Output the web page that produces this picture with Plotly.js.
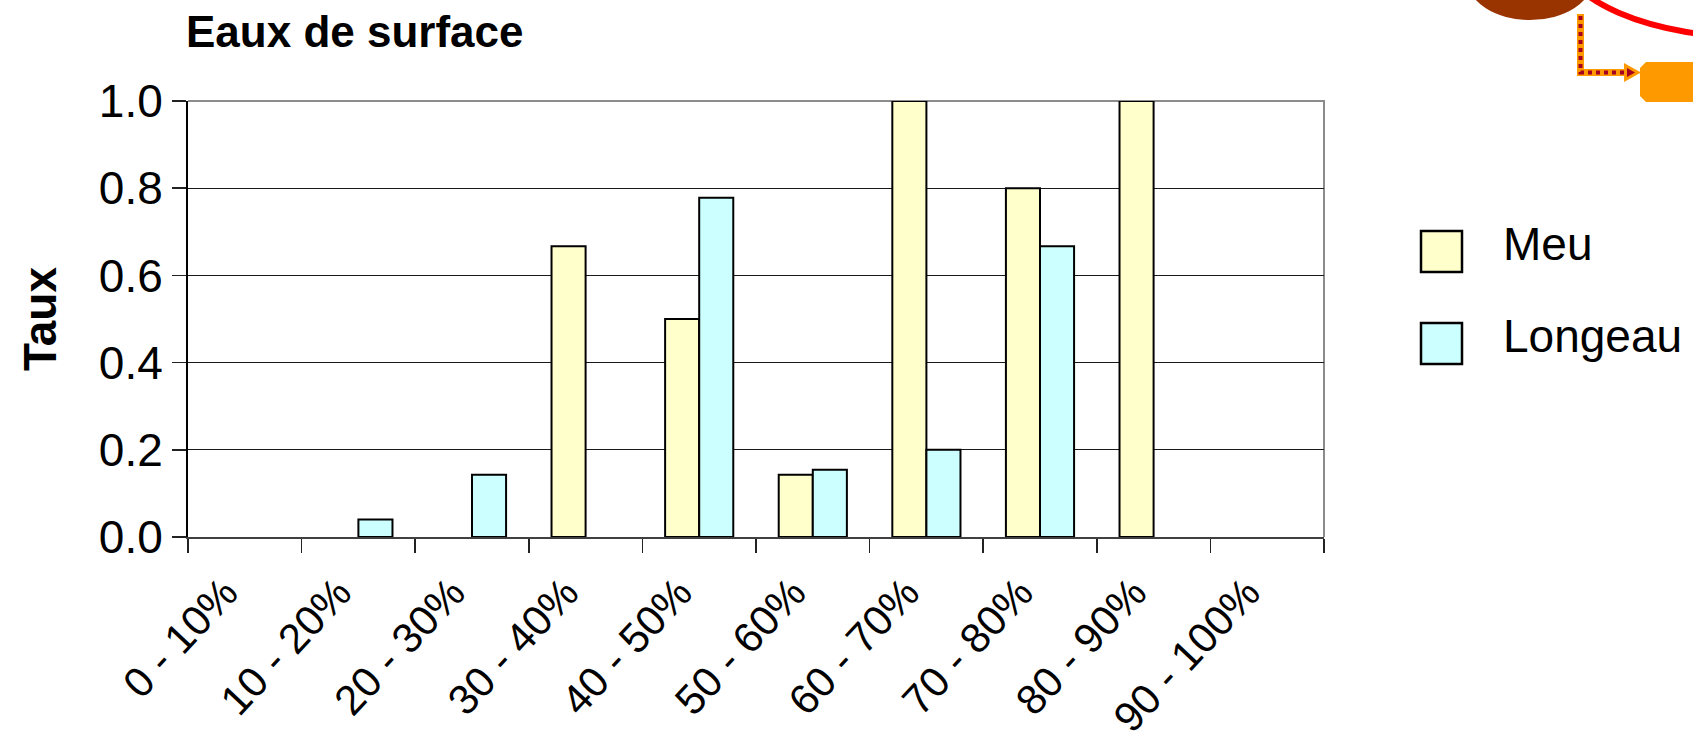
<!DOCTYPE html>
<html>
<head>
<meta charset="utf-8">
<script src="https://cdn.plot.ly/plotly-3.0.1.min.js"></script>
<style>
  html, body { margin: 0; padding: 0; background: #ffffff; }
  #chart { width: 1693px; height: 747px; }
</style>
</head>
<body>
<div id="chart"></div>
<script>
// Share of samples per class, surface waters
const categories = ['0 - 10%', '10 - 20%', '20 - 30%', '30 - 40%', '40 - 50%',
                    '50 - 60%', '60 - 70%', '70 - 80%', '80 - 90%', '90 - 100%'];
const meu     = [0, 0, 0, 0.667, 0.5, 0.143, 1.0, 0.8, 1.0, 0];
const longeau = [0, 0.04, 0.143, 0, 0.778, 0.154, 0.2, 0.667, 0, 0];
const seriesNames  = ['Meu', 'Longeau'];
const seriesColors = ['#FFFFCC', '#CCFFFF'];
const yTicks = [0, 0.2, 0.4, 0.6, 0.8, 1.0];

const W = 1693, H = 747;
const M = { l: 188, r: 369, t: 101, b: 210 };
const PW = W - M.l - M.r, PH = H - M.t - M.b;
// pixel -> paper coordinates
const X = px => (px - M.l) / PW;
const Y = py => (H - M.b - py) / PH;

const FONT = 'Liberation Sans, Arial, sans-serif';

// empty classes get no outline so nothing is drawn on the baseline
const traces = [meu, longeau].map((vals, i) => ({
  type: 'bar',
  name: seriesNames[i],
  x: categories,
  y: vals,
  marker: {
    color: seriesColors[i],
    line: { color: '#000000', width: vals.map(v => (v > 0 ? 2 : 0)) }
  },
  showlegend: false,
  hoverinfo: 'x+y+name'
}));

const shapes = [];
const annotations = [];

// top and right frame of the plot area
shapes.push({
  type: 'path', xref: 'paper', yref: 'paper', layer: 'between',
  path: `M 0,1 L 1,1 L 1,0`,
  line: { color: '#8c8c8c', width: 2 }
});

// legend drawn as boxes with labels
const legendRows = [251.5, 343.5];
seriesNames.forEach((name, i) => {
  const cy = legendRows[i];
  shapes.push({
    type: 'rect', xref: 'paper', yref: 'paper', layer: 'above',
    x0: X(1421), x1: X(1462), y0: Y(cy + 20.5), y1: Y(cy - 20.5),
    fillcolor: seriesColors[i], line: { color: '#000000', width: 2.5 }
  });
  annotations.push({
    xref: 'paper', yref: 'paper', x: X(1501), y: Y(cy - 8),
    xanchor: 'left', yanchor: 'middle', showarrow: false,
    text: name, font: { family: FONT, size: 46, color: '#000000' }
  });
});

// slide fragments in the upper right corner
function pathFromPx(points, close) {
  return points.map((p, k) => (k ? 'L ' : 'M ') + X(p[0]) + ',' + Y(p[1])).join(' ') + (close ? ' Z' : '');
}
shapes.push({
  type: 'circle', xref: 'paper', yref: 'paper', layer: 'above',
  x0: X(1560), x1: X(1960), y0: Y(38), y1: Y(-135),
  fillcolor: '#FFFFFF', line: { color: '#FF0000', width: 6 }
});
shapes.push({
  type: 'circle', xref: 'paper', yref: 'paper', layer: 'above',
  x0: X(1467), x1: X(1593), y0: Y(20), y1: Y(-62),
  fillcolor: '#993300', line: { width: 0 }
});
// connector with arrow
shapes.push({
  type: 'path', xref: 'paper', yref: 'paper', layer: 'above',
  path: pathFromPx([[1580.5, 14], [1580.5, 72.5], [1626, 72.5]], false),
  line: { color: '#FF9900', width: 7 }
});
shapes.push({
  type: 'path', xref: 'paper', yref: 'paper', layer: 'above',
  path: pathFromPx([[1580.5, 16], [1580.5, 72.5], [1624, 72.5]], false),
  line: { color: '#A50021', width: 4, dash: 'dot' }
});
shapes.push({
  type: 'path', xref: 'paper', yref: 'paper', layer: 'above',
  path: pathFromPx([[1624, 63], [1641, 72.5], [1624, 82]], true),
  fillcolor: '#FF9900', line: { width: 0 }
});
shapes.push({
  type: 'path', xref: 'paper', yref: 'paper', layer: 'above',
  path: pathFromPx([[1627, 68], [1635, 72.5], [1627, 77]], true),
  fillcolor: '#A50021', line: { width: 0 }
});
// orange box
shapes.push({
  type: 'path', xref: 'paper', yref: 'paper', layer: 'above',
  path: pathFromPx([[1646, 62], [1700, 62], [1700, 102], [1646, 102], [1640, 96], [1640, 68]], true),
  fillcolor: '#FF9900', line: { width: 0 }
});

const layout = {
  width: W, height: H,
  margin: M,
  paper_bgcolor: '#ffffff',
  plot_bgcolor: '#ffffff',
  font: { family: FONT, color: '#000000' },
  title: {
    text: '<b>Eaux de surface</b>',
    font: { family: FONT, size: 44, color: '#000000' },
    xref: 'container', yref: 'container',
    x: 186 / W, xanchor: 'left',
    y: 1 - 32 / H, yanchor: 'middle'
  },
  barmode: 'group',
  bargap: 0.4,
  bargroupgap: 0,
  showlegend: false,
  xaxis: {
    type: 'category',
    categoryorder: 'array', categoryarray: categories,
    tickson: 'boundaries',
    ticks: 'outside', ticklen: 14, tickwidth: 1.5, tickcolor: '#222222',
    tickangle: -47,
    ticklabelshift: -20,
    ticklabelstandoff: 12,
    tickfont: { family: FONT, size: 42, color: '#000000' },
    showline: true, linecolor: '#404040', linewidth: 2,
    showgrid: false, zeroline: false,
    fixedrange: true
  },
  yaxis: {
    range: [0, 1.0],
    tickvals: yTicks,
    tickformat: '.1f',
    ticks: 'outside', ticklen: 14, tickwidth: 1.5, tickcolor: '#222222',
    tickfont: { family: FONT, size: 46, color: '#000000' },
    showline: true, linecolor: '#000000', linewidth: 2,
    showgrid: true, gridcolor: '#1a1a1a', gridwidth: 1,
    zeroline: false,
    title: {
      text: '<b>Taux</b>',
      font: { family: FONT, size: 46, color: '#000000' },
      standoff: 28
    },
    fixedrange: true
  },
  shapes: shapes,
  annotations: annotations
};

Plotly.newPlot('chart', traces, layout, { displayModeBar: false, staticPlot: true });
</script>
</body>
</html>
